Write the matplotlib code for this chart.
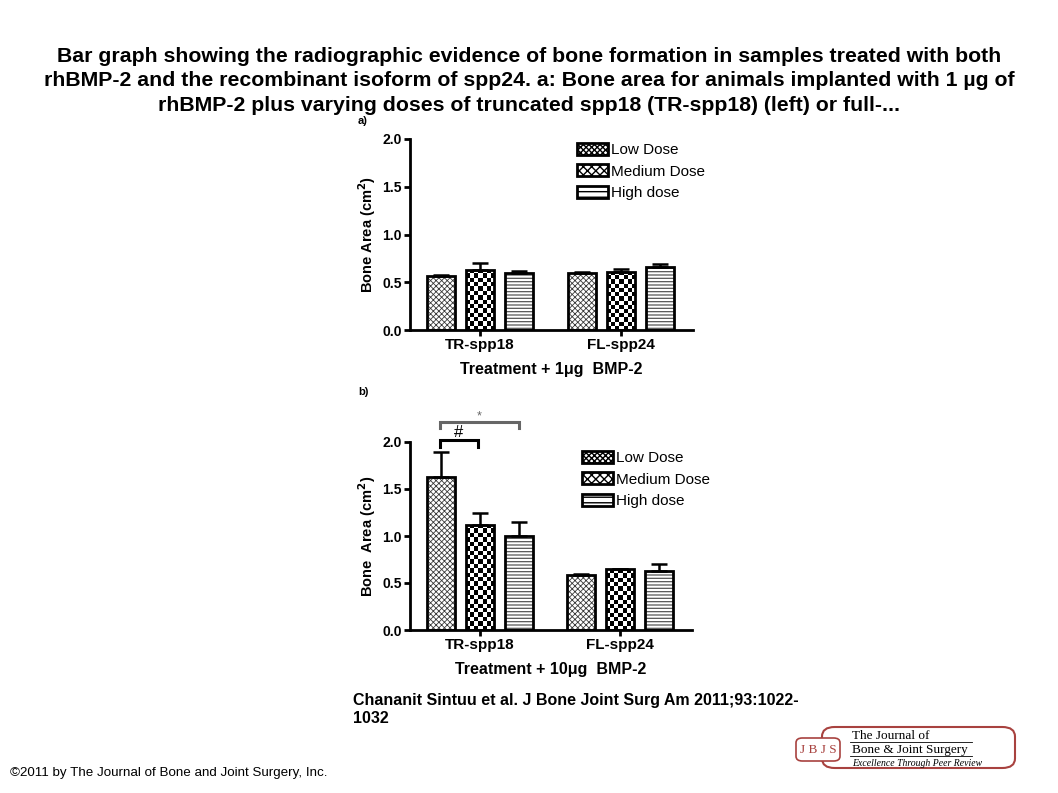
import matplotlib
matplotlib.use("Agg")
import matplotlib.pyplot as plt
from matplotlib.patches import FancyBboxPatch, Patch
import numpy as np

plt.rcParams['font.family'] = ['Liberation Sans', 'DejaVu Sans']

# data
groups = ["TR-spp18", "FL-spp24"]
doses = ["Low Dose", "Medium Dose", "High dose"]

# a) 1 ug BMP-2
a_low = [0.57, 0.60]
a_med = [0.63, 0.61]
a_high = [0.595, 0.655]
a_low_err = [0.005, 0.005]
a_med_err = [0.07, 0.025]
a_high_err = [0.02, 0.035]

# b) 10 ug BMP-2
b_low = [1.63, 0.585]
b_med = [1.12, 0.645]
b_high = [1.005, 0.632]
b_low_err = [0.26, 0.008]
b_med_err = [0.12, 0.008]
b_high_err = [0.14, 0.07]

title = ("Bar graph showing the radiographic evidence of bone formation in samples treated with both\n"
         "rhBMP-2 and the recombinant isoform of spp24. a: Bone area for animals implanted with 1 \u00b5g of\n"
         "rhBMP-2 plus varying doses of truncated spp18 (TR-spp18) (left) or full-...")

W, H = 1058, 793
fig = plt.figure(figsize=(W / 100, H / 100), dpi=100)


def fx(px):
    return px / W


def fy(py):
    return 1 - py / H


styles = [
    dict(hatch="xxxxxx", color="#3a3a3a", hlw=0.6),
    None,  # checkerboard drawn as image
    dict(hatch="-----", color="#555555", hlw=0.9),
]


def checker_fill(ax, bars, cell_px=4.3):
    # fill each bar with a black/white checkerboard clipped to the bar
    fig.canvas.draw()
    for b in bars:
        x0, y0 = b.get_x(), b.get_y()
        w, h = b.get_width(), b.get_height()
        p0 = ax.transData.transform((x0, y0))
        p1 = ax.transData.transform((x0 + w, y0 + h))
        nx = max(1, int(round(abs(p1[0] - p0[0]) / cell_px)))
        ny = max(1, int(round(abs(p1[1] - p0[1]) / cell_px)))
        img = (np.add.outer(np.arange(ny), np.arange(nx)) % 2).astype(float)
        im = ax.imshow(img, cmap="gray", vmin=0, vmax=1, interpolation="nearest",
                       extent=(x0, x0 + w, y0, y0 + h), origin="lower",
                       aspect="auto", zorder=2)
        im.set_clip_path(b)


def draw_panel(ax, series, errs, xlabel, ylabel):
    x = np.arange(len(groups))
    width = 0.2
    offs = [-0.277, 0.0, 0.277]
    ax.set_xlim(-0.496, 1.51)
    ax.set_ylim(0, 2.0)
    for vals, err, off, st in zip(series, errs, offs, styles):
        if st is not None:
            plt.rcParams['hatch.linewidth'] = st["hlw"]
            ax.bar(x + off, vals, width, facecolor="white", edgecolor=st["color"],
                   hatch=st["hatch"], linewidth=0, zorder=2)
        outline = ax.bar(x + off, vals, width, facecolor="none", edgecolor="black",
                         linewidth=2, zorder=3)
        if st is None:
            checker_fill(ax, outline.patches)
        ax.errorbar(x + off, vals, yerr=[np.zeros(len(vals)), err], fmt="none",
                    ecolor="black", elinewidth=1.8, capsize=6, capthick=1.8, zorder=4)
    ax.set_xlim(-0.496, 1.51)
    ax.set_ylim(0, 2.0)
    ax.set_yticks([0.0, 0.5, 1.0, 1.5, 2.0])
    ax.set_yticklabels(["0.0", "0.5", "1.0", "1.5", "2.0"], fontsize=10, fontweight="bold")
    ax.set_xticks(x)
    ax.set_xticklabels(groups, fontsize=11, fontweight="bold")
    ax.spines["top"].set_visible(False)
    ax.spines["right"].set_visible(False)
    ax.spines["left"].set_linewidth(2)
    ax.spines["bottom"].set_linewidth(2)
    ax.tick_params(axis="both", width=2, length=4, pad=2)
    ax.set_xlabel(xlabel, fontsize=11.5, fontweight="bold", labelpad=7)
    ax.set_ylabel(ylabel, fontsize=10.5, fontweight="bold", labelpad=3)
    plt.rcParams['hatch.linewidth'] = 1.0


ax1 = fig.add_axes([fx(410), fy(330), fx(693) - fx(410), fy(139) - fy(330)])
draw_panel(ax1, [a_low, a_med, a_high], [a_low_err, a_med_err, a_high_err],
           "Treatment + 1\u03bcg  BMP-2", "Bone Area (cm$^\\mathbf{2}$)")

ax2 = fig.add_axes([fx(410), fy(630), fx(692) - fx(410), fy(442) - fy(630)])
draw_panel(ax2, [b_low, b_med, b_high], [b_low_err, b_med_err, b_high_err],
           "Treatment + 10\u03bcg  BMP-2", "Bone  Area (cm$^\\mathbf{2}$)")


def legend_handles():
    hs = []
    for hatch, hlw in [("xxxxxx", 0.5), ("xxxx", 1.6), ("---", 1.2)]:
        plt.rcParams['hatch.linewidth'] = hlw
        hs.append(Patch(facecolor="white", edgecolor="black", hatch=hatch, linewidth=2))
    plt.rcParams['hatch.linewidth'] = 1.0
    return hs


for ax, (lx, ly) in [(ax1, (577, 143)), (ax2, (582, 451))]:
    leg = ax.legend(legend_handles(), doses, loc="upper left",
                    bbox_to_anchor=(fx(lx), fy(ly)), bbox_transform=fig.transFigure,
                    frameon=False, fontsize=11, handlelength=2.0, handleheight=0.85,
                    handletextpad=0.2, labelspacing=0.45, borderpad=0, borderaxespad=0)

# significance brackets in panel b
def bracket(ax, x0, x1, y, drop, label, color, fs, dy):
    ax.plot([x0, x0, x1, x1], [y - drop, y, y, y - drop], color=color, lw=2.2,
            clip_on=False, solid_joinstyle="miter")
    ax.text((x0 + x1) / 2, y + dy, label, ha="center", va="bottom", fontsize=fs,
            color=color, clip_on=False)


bracket(ax2, -0.284, -0.014, 2.02, 0.07, "#", "black", 12, 0.0)
bracket(ax2, -0.284, 0.277, 2.21, 0.06, "*", "#666666", 9, 0.0)

fig.text(fx(358), fy(121), "a)", fontsize=8, fontweight="bold", ha="left", va="center")
fig.text(fx(358), fy(392), "b)", fontsize=8, fontweight="bold", ha="left", va="center")

fig.text(0.5, fy(47), title, ha="center", va="top", fontsize=15.3, fontweight="bold",
         linespacing=1.36)

fig.text(fx(353), fy(693), "Chananit Sintuu et al. J Bone Joint Surg Am 2011;93:1022-\n1032",
         ha="left", va="top", fontsize=11.5, fontweight="bold", linespacing=1.25)
fig.text(fx(10), fy(773), "\u00a92011 by The Journal of Bone and Joint Surgery, Inc.",
         ha="left", va="center", fontsize=9.6)

# journal logo
red = "#a8423f"
fig.patches.append(FancyBboxPatch((fx(822), fy(768)), fx(1015) - fx(822), fy(727) - fy(768),
                                  boxstyle="round,pad=0,rounding_size=0.012",
                                  transform=fig.transFigure, facecolor="white",
                                  edgecolor=red, linewidth=1.5))
fig.patches.append(FancyBboxPatch((fx(796), fy(761)), fx(840) - fx(796), fy(738) - fy(761),
                                  boxstyle="round,pad=0,rounding_size=0.006",
                                  transform=fig.transFigure, facecolor="white",
                                  edgecolor=red, linewidth=1.2))
fig.text(fx(818), fy(750), "J B J S", color=red, fontsize=9.5, family="Liberation Serif",
         ha="center", va="center")
fig.text(fx(852), fy(736), "The Journal of", fontsize=9.5, family="Liberation Serif",
         ha="left", va="center")
fig.text(fx(852), fy(750), "Bone & Joint Surgery", fontsize=9.5, family="Liberation Serif",
         ha="left", va="center")
fig.text(fx(852), fy(763), "Excellence Through Peer Review", fontsize=7, style="italic",
         family="Liberation Serif", ha="left", va="center")
for ly in (742, 756):
    fig.add_artist(plt.Line2D([fx(850), fx(972)], [fy(ly), fy(ly)], color="black", lw=0.6,
                              transform=fig.transFigure))

fig.savefig("out.png", dpi=100)
